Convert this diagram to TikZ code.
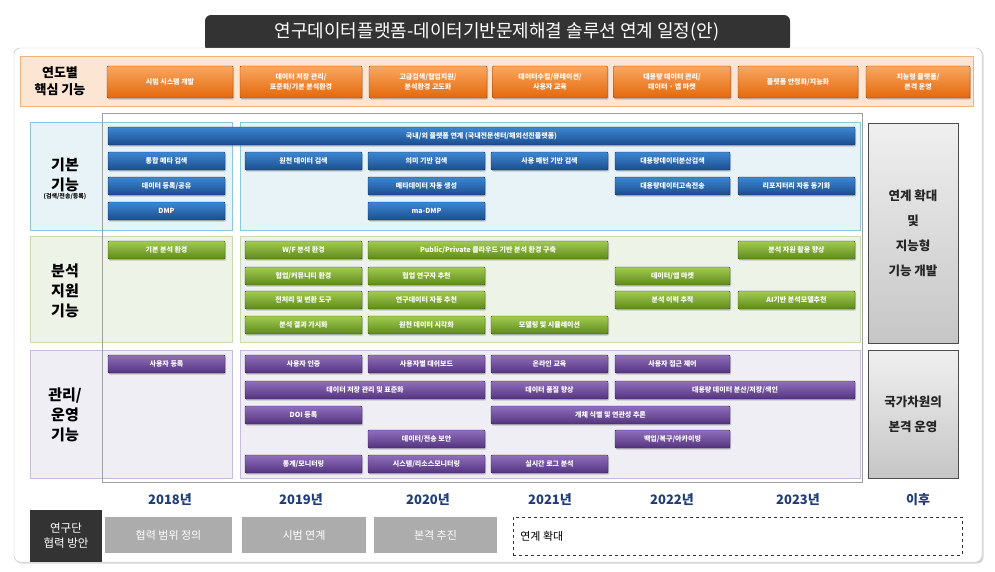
\documentclass[tikz,border=0pt]{standalone}
\usepackage{fontspec}
\setmainfont{Noto Sans CJK KR}
\usetikzlibrary{shadows}

\definecolor{tabdark}{HTML}{333333}
\definecolor{orgtop}{HTML}{F9A862}
\definecolor{orgbot}{HTML}{E4680A}
\definecolor{orgband}{HTML}{FCE6D3}
\definecolor{orgline}{HTML}{F2B27E}
\definecolor{blutop}{HTML}{3D88D2}
\definecolor{blubot}{HTML}{1C4C8E}
\definecolor{bluband}{HTML}{E8F3F8}
\definecolor{bluline}{HTML}{8CC6DA}
\definecolor{grntop}{HTML}{A2CB50}
\definecolor{grnbot}{HTML}{5E8A1C}
\definecolor{grnband}{HTML}{EEF3E8}
\definecolor{grnline}{HTML}{C7DBAE}
\definecolor{prptop}{HTML}{9070BE}
\definecolor{prpbot}{HTML}{54337E}
\definecolor{prpband}{HTML}{EFEEF5}
\definecolor{prpline}{HTML}{C4BCD9}
\definecolor{yearblue}{HTML}{1F3D7A}

\tikzset{
  bar/.style={draw=#1bot!60!black, top color=#1top, bottom color=#1bot,
    text=white, font=\fontsize{7}{8}\selectfont\bfseries,
    minimum height=18pt, inner sep=1pt, rounded corners=1pt,
    drop shadow={opacity=.4, shadow xshift=1pt, shadow yshift=-1.5pt}},
  hdbox/.style={bar=org, minimum height=32pt, align=center,
    font=\fontsize{7}{9.5}\selectfont\bfseries},
  rowlabel/.style={align=center, font=\fontsize{15}{20}\selectfont\bfseries},
  sidebox/.style={draw=black!70, top color=gray!12, bottom color=gray!45,
    align=center, font=\fontsize{12.5}{25}\selectfont\bfseries, text=black!85},
  yearlabel/.style={text=yearblue, font=\fontsize{13}{15}\selectfont\bfseries},
  coopbox/.style={fill=gray!65, text=white, minimum height=36pt,
    font=\fontsize{11}{13}\selectfont}
}

% bar: name, colour, left, right, y, text
\newcommand{\tbar}[6]{\node[bar=#2, minimum width=#4pt-#3pt] (#1) at ({(#3+#4)/2},#5) {#6};}

\begin{document}
\begin{tikzpicture}[x=1pt,y=-1pt]
\useasboundingbox (0,0) rectangle (995,571);

% title tab and frame
\fill[tabdark, rounded corners=6pt] (205,52) -- (205,15) -- (790,15) -- (790,52) -- cycle;
\node[text=white, font=\fontsize{18}{20}\selectfont] (title) at (497,32)
  {연구데이터플랫폼-데이터기반문제해결 솔루션 연계 일정(안)};
\draw[gray!55, fill=white, rounded corners=6pt,
  drop shadow={opacity=.3, shadow xshift=1.5pt, shadow yshift=-1.5pt}] (14,48) rectangle (982,562);

% bands
\draw[orgline, fill=orgband] (20,56) rectangle (973,106);
\draw[bluline, fill=bluband] (30,122) rectangle (232,230);
\draw[bluline, fill=bluband] (240,122) rectangle (860,230);
\draw[grnline, fill=grnband] (30,236) rectangle (232,342);
\draw[grnline, fill=grnband] (240,236) rectangle (860,342);
\draw[prpline, fill=prpband] (30,350) rectangle (232,478);
\draw[prpline, fill=prpband] (240,350) rectangle (860,478);
\draw[gray!75, thin] (102,113) rectangle (862,482);

% key functions by year
\node[align=center, font=\fontsize{13}{17}\selectfont\bfseries] (hdlabel) at (60,81) {연도별\\핵심 기능};
\node[hdbox, minimum width=126pt] (org1) at (170,82) {시범 시스템 개발};
\node[hdbox, minimum width=122pt] (org2) at (301,82) {데이터 저장 관리/\\표준화/기본 분석환경};
\node[hdbox, minimum width=118pt] (org3) at (428,82) {고급검색/협업지원/\\분석환경 고도화};
\node[hdbox, minimum width=115pt] (org4) at (550,82) {데이터수집/큐레이션/\\사용자 교육};
\node[hdbox, minimum width=117pt] (org5) at (672,82) {대용량 데이터 관리/\\데이터 · 앱 마켓};
\node[hdbox, minimum width=120pt] (org6) at (798,82) {플랫폼 안정화/지능화};
\node[hdbox, minimum width=104pt] (org7) at (918,82) {지능형 플랫폼/\\본격 운영};

% basic functions
\node[rowlabel] (blulabel) at (65,175) {기본\\기능};
\node[font=\fontsize{6}{7}\selectfont\bfseries] (blusub) at (65,197) {(검색/전송/등록)};
\tbar{blu0}{blu}{108}{855}{136}{국내/외 플랫폼 연계 (국내전문센터/해외선진플랫폼)}
\tbar{blu1}{blu}{108}{225}{161}{통합 메타 검색}
\tbar{blu2}{blu}{245}{362}{161}{원천 데이터 검색}
\tbar{blu3}{blu}{368}{485}{161}{의미 기반 검색}
\tbar{blu4}{blu}{491}{608}{161}{사용 패턴 기반 검색}
\tbar{blu5}{blu}{615}{730}{161}{대용량데이터분산검색}
\tbar{blu6}{blu}{108}{225}{186}{데이터 등록/공유}
\tbar{blu7}{blu}{368}{485}{186}{메타데이터 자동 생성}
\tbar{blu8}{blu}{615}{730}{186}{대용량데이터고속전송}
\tbar{blu9}{blu}{738}{855}{186}{리포지터리 자동 동기화}
\tbar{blu10}{blu}{108}{225}{211}{DMP}
\tbar{blu11}{blu}{368}{485}{211}{ma-DMP}

% analysis support
\node[rowlabel] (grnlabel) at (65,291) {분석\\지원\\기능};
\tbar{grn1}{grn}{108}{225}{250}{기본 분석 환경}
\tbar{grn2}{grn}{245}{362}{250}{W/F 분석 환경}
\tbar{grn3}{grn}{368}{608}{250}{Public/Private 클라우드 기반 분석 환경 구축}
\tbar{grn4}{grn}{738}{855}{250}{분석 자원 활용 향상}
\tbar{grn5}{grn}{245}{362}{276}{협업/커뮤니티 환경}
\tbar{grn6}{grn}{368}{485}{276}{협업 연구자 추천}
\tbar{grn7}{grn}{615}{730}{276}{데이터/앱 마켓}
\tbar{grn8}{grn}{245}{362}{300}{전처리 및 변환 도구}
\tbar{grn9}{grn}{368}{485}{300}{연구데이터 자동 추천}
\tbar{grn10}{grn}{615}{730}{300}{분석 이력 추적}
\tbar{grn11}{grn}{738}{855}{300}{AI기반 분석모델추천}
\tbar{grn12}{grn}{245}{362}{325}{분석 결과 가시화}
\tbar{grn13}{grn}{368}{485}{325}{원천 데이터 시각화}
\tbar{grn14}{grn}{491}{608}{325}{모델링 및 시뮬레이션}

% management / operation
\node[rowlabel] (prplabel) at (65,415) {관리/\\운영\\기능};
\tbar{prp1}{prp}{108}{225}{364}{사용자 등록}
\tbar{prp2}{prp}{245}{362}{364}{사용자 인증}
\tbar{prp3}{prp}{368}{485}{364}{사용자별 대쉬보드}
\tbar{prp4}{prp}{491}{608}{364}{온라인 교육}
\tbar{prp5}{prp}{615}{730}{364}{사용자 접근 제어}
\tbar{prp6}{prp}{245}{485}{390}{데이터 저장 관리 및 표준화}
\tbar{prp7}{prp}{491}{608}{390}{데이터 품질 향상}
\tbar{prp8}{prp}{615}{855}{390}{대용량 데이터 분산/저장/색인}
\tbar{prp9}{prp}{245}{362}{415}{DOI 등록}
\tbar{prp10}{prp}{491}{730}{415}{개체 식별 및 연관성 추론}
\tbar{prp11}{prp}{368}{485}{439}{데이터/전송 보안}
\tbar{prp12}{prp}{615}{730}{439}{백업/복구/아카이빙}
\tbar{prp13}{prp}{245}{362}{464}{통계/모니터링}
\tbar{prp14}{prp}{368}{485}{464}{시스템/리소스모니터링}
\tbar{prp15}{prp}{491}{608}{464}{실시간 로그 분석}

% after 2023
\node[sidebox, minimum width=90pt, minimum height=220pt] (side1) at (913,233) {연계 확대\\및\\지능형\\기능 개발};
\node[sidebox, minimum width=90pt, minimum height=128pt] (side2) at (913,414) {국가차원의\\본격 운영};

% years
\node[yearlabel] (y2018) at (170,500) {2018년};
\node[yearlabel] (y2019) at (301,500) {2019년};
\node[yearlabel] (y2020) at (428,500) {2020년};
\node[yearlabel] (y2021) at (550,500) {2021년};
\node[yearlabel] (y2022) at (672,500) {2022년};
\node[yearlabel] (y2023) at (798,500) {2023년};
\node[yearlabel] (after) at (918,500) {이후};

% cooperation with research group
\node[fill=tabdark, text=white, align=center, minimum width=72pt, minimum height=52pt,
  font=\fontsize{11.5}{15}\selectfont] (coop) at (66,536) {연구단\\협력 방안};
\node[coopbox, minimum width=127pt] (coop1) at (168.5,535) {협력 범위 정의};
\node[coopbox, minimum width=124pt] (coop2) at (304,535) {시범 연계};
\node[coopbox, minimum width=123pt] (coop3) at (435.5,535) {본격 추진};
\node[draw=black!80, dashed, minimum width=449pt, minimum height=38pt] (coop4) at (737.5,536) {};
\node[anchor=west, font=\fontsize{11}{13}\selectfont] (coop4txt) at ([xshift=4pt]coop4.west) {연계 확대};
\end{tikzpicture}
\end{document}
